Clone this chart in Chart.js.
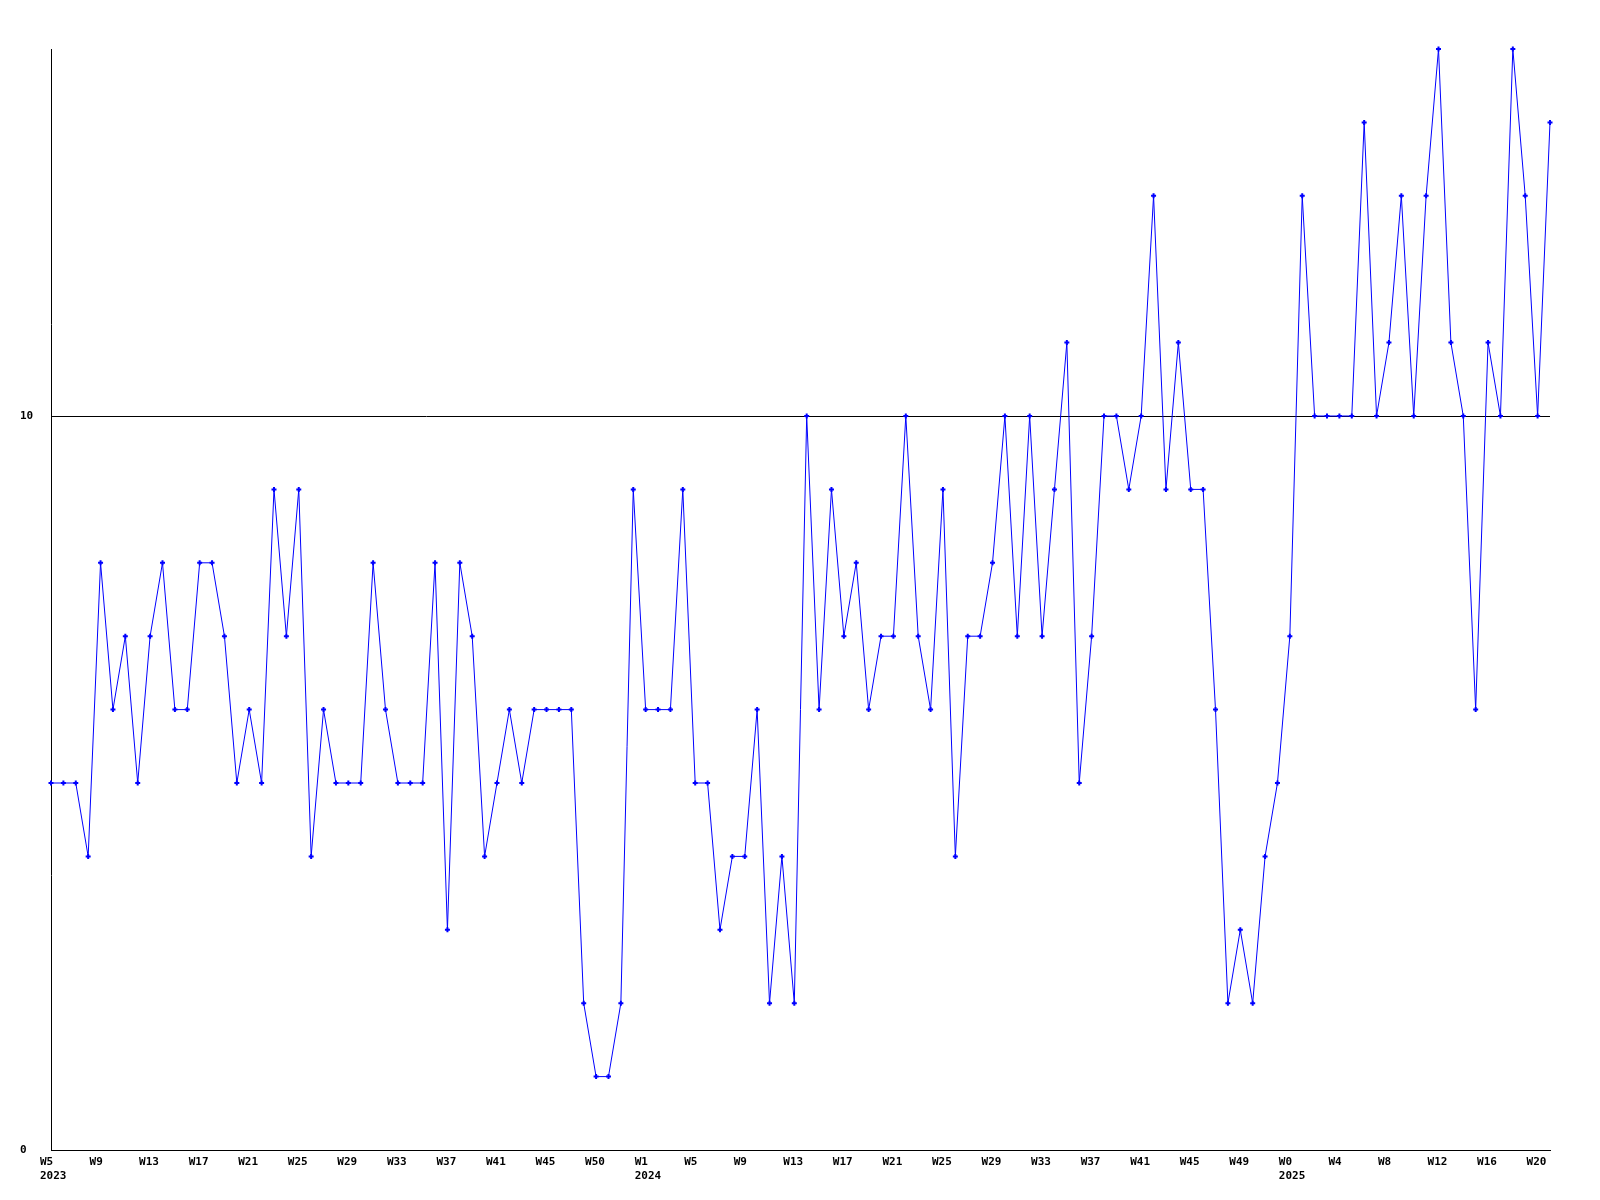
<!DOCTYPE html>
<html>
<head>
<meta charset="utf-8">
<title>Weekly count</title>
<script src="https://cdn.jsdelivr.net/npm/chart.js@4.4.1/dist/chart.umd.min.js"></script>
<style>
  html, body { margin: 0; padding: 0; background: #fff; }
  #chart { display: block; }
</style>
</head>
<body>
<canvas id="chart" width="1600" height="1200"></canvas>
<script>
// one value per week, W5 2023 .. W21 2025
const weeklyValues = [
  5, 5, 5, 4, 8, 6, 7, 5, 7, 8, 6, 6, 8, 8, 7, 5, 6, 5, 9, 7,
  9, 4, 6, 5, 5, 5, 8, 6, 5, 5, 5, 8, 3, 8, 7, 4, 5, 6, 5, 6,
  6, 6, 6, 2, 1, 1, 2, 9, 6, 6, 6, 9, 5, 5, 3, 4, 4, 6, 2, 4,
  2, 10, 6, 9, 7, 8, 6, 7, 7, 10, 7, 6, 9, 4, 7, 7, 8, 10, 7, 10,
  7, 9, 11, 5, 7, 10, 10, 9, 10, 13, 9, 11, 9, 9, 6, 2, 3, 2, 4, 5,
  7, 13, 10, 10, 10, 10, 14, 10, 11, 13, 10, 13, 15, 11, 10, 6, 11, 10, 15, 13,
  10, 14
];

// labels shown on every 4th week
const weekTicks = [
  'W5', 'W9', 'W13', 'W17', 'W21', 'W25', 'W29', 'W33', 'W37', 'W41', 'W45', 'W50',
  'W1', 'W5', 'W9', 'W13', 'W17', 'W21', 'W25', 'W29', 'W33', 'W37', 'W41', 'W45', 'W49',
  'W0', 'W4', 'W8', 'W12', 'W16', 'W20'
];
const yearLabels = ['2023', '2024', '2025'];
const yearTickPos = [0, 12, 25];   // which week tick carries the year

const yTicks = [0, 10];
const tickEvery = 4;

const labels = weeklyValues.map((v, i) => String(i));

const ctx = document.getElementById('chart').getContext('2d');

const myChart = new Chart(ctx, {
  type: 'line',
  data: {
    labels: labels,
    datasets: [{
      data: weeklyValues,
      borderColor: '#0000ff',
      backgroundColor: '#0000ff',
      borderWidth: 1,
      tension: 0,
      pointStyle: 'cross',
      pointRadius: 2.5,
      pointBorderWidth: 2,
      pointHoverRadius: 2.5,
      fill: false,
      clip: 5
    }]
  },
  options: {
    responsive: false,
    animation: false,
    devicePixelRatio: 1,
    layout: {
      padding: { left: 20, right: 50, top: 49, bottom: 0 }
    },
    plugins: {
      legend: { display: false },
      tooltip: { enabled: false }
    },
    scales: {
      x: {
        offset: false,
        grid: { display: false, drawTicks: false },
        border: { display: true, color: '#000', width: 1 },
        ticks: {
          autoSkip: false,
          maxRotation: 0,
          minRotation: 0,
          align: 'start',
          labelOffset: -11,
          padding: 6,
          color: '#000',
          font: { family: 'DejaVu Sans Mono', size: 11, weight: 'bold', lineHeight: 1.2 },
          callback: function (value, index) {
            if (index % tickEvery !== 0) return null;
            const t = index / tickEvery;
            if (t >= weekTicks.length) return null;
            const y = yearTickPos.indexOf(t);
            return y >= 0 ? [weekTicks[t], yearLabels[y]] : weekTicks[t];
          }
        },
        afterFit: function (scale) {
          scale.height = 50;
        }
      },
      y: {
        min: 0,
        max: 15,
        grid: {
          drawTicks: false,
          color: function (c) {
            return c.tick && yTicks.includes(c.tick.value) ? '#000' : 'rgba(0,0,0,0)';
          },
          lineWidth: 1
        },
        border: { display: true, color: '#000', width: 1 },
        ticks: {
          stepSize: 10,
          includeBounds: false,
          crossAlign: 'far',
          padding: 0,
          color: '#000',
          font: { family: 'DejaVu Sans Mono', size: 11, weight: 'bold' },
          callback: function (value) {
            return yTicks.includes(value) ? String(value) : '';
          }
        },
        afterFit: function (scale) {
          scale.width = 31;
        }
      }
    }
  }
});
</script>
</body>
</html>
